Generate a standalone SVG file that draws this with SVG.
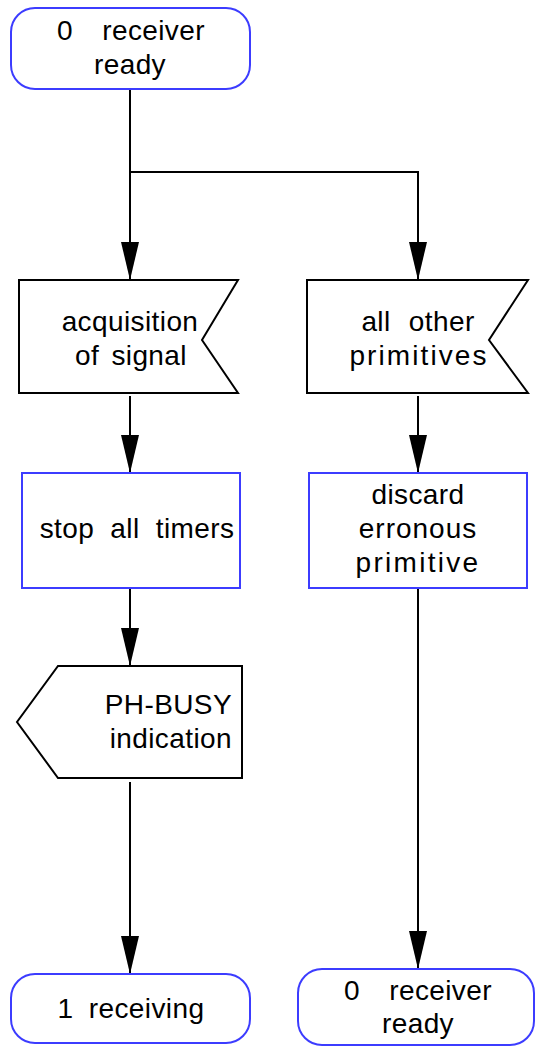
<svg xmlns="http://www.w3.org/2000/svg" width="535" height="1047" viewBox="0 0 535 1047">
<style>
  .state { fill: #ffffff; stroke: #3c3cff; stroke-width: 2; }
  .task { fill: #ffffff; stroke: #3c3cff; stroke-width: 2; }
  .sig { fill: #ffffff; stroke: #000000; stroke-width: 2; stroke-linejoin: miter; }
  .conn { fill: none; stroke: #000000; stroke-width: 2; }
  text { font-family: "Liberation Sans", Arial, sans-serif; font-size: 28px; fill: #000000; letter-spacing: 0.4px; }
  .mid { text-anchor: middle; }
  .end { text-anchor: end; }
</style>
<defs>
  <marker id="arr" viewBox="0 0 38 18" refX="38" refY="9" markerWidth="38" markerHeight="18" markerUnits="userSpaceOnUse" orient="auto">
    <path d="M0,0 L38,9 L0,18 Z" fill="#000000"/>
  </marker>
</defs>

<g id="connectors">
  <path class="conn" d="M130,89 V280" marker-end="url(#arr)"/>
  <path class="conn" d="M130,172 H418 V280" marker-end="url(#arr)"/>
  <path class="conn" d="M130,396 V473" marker-end="url(#arr)"/>
  <path class="conn" d="M418,396 V473" marker-end="url(#arr)"/>
  <path class="conn" d="M130,588 V666" marker-end="url(#arr)"/>
  <path class="conn" d="M418,588 V969" marker-end="url(#arr)"/>
  <path class="conn" d="M130,782 V974" marker-end="url(#arr)"/>
</g>

<g id="state-receiver-ready-top">
  <rect class="state" x="11" y="8" width="239" height="81" rx="24" ry="24"/>
  <text class="mid" x="131" y="40" word-spacing="21">0 receiver</text>
  <text class="mid" x="130" y="74">ready</text>
</g>

<g id="input-acquisition">
  <polygon class="sig" points="19,280 238,280 202,340 238,393 19,393"/>
  <text class="mid" x="130" y="331">acquisition</text>
  <text class="mid" x="131" y="365" word-spacing="4">of signal</text>
</g>

<g id="input-all-other">
  <polygon class="sig" points="307,280 528,280 489,340 528,393 307,393"/>
  <text class="mid" x="418" y="331" word-spacing="10">all other</text>
  <text class="mid" x="419" y="365" style="letter-spacing:2.1px">primitives</text>
</g>

<g id="task-stop-timers">
  <rect class="task" x="22" y="473" width="218" height="115"/>
  <text class="mid" x="137" y="538" word-spacing="8">stop all timers</text>
</g>

<g id="task-discard">
  <rect class="task" x="309" y="473" width="218" height="115"/>
  <text class="mid" x="418" y="504">discard</text>
  <text class="mid" x="418" y="538" style="letter-spacing:1px">erronous</text>
  <text class="mid" x="418" y="572" style="letter-spacing:2.3px">primitive</text>
</g>

<g id="output-ph-busy">
  <polygon class="sig" points="58,666 242,666 242,778 58,778 17,722"/>
  <text class="end" x="232" y="714">PH-BUSY</text>
  <text class="end" x="232" y="748">indication</text>
</g>

<g id="state-receiving">
  <rect class="state" x="11" y="974" width="239" height="69" rx="24" ry="24"/>
  <text class="mid" x="131" y="1018" word-spacing="7">1 receiving</text>
</g>

<g id="state-receiver-ready-bottom">
  <rect class="state" x="298" y="969" width="236" height="76" rx="24" ry="24"/>
  <text class="mid" x="418" y="1000" word-spacing="21">0 receiver</text>
  <text class="mid" x="418" y="1033">ready</text>
</g>
</svg>
